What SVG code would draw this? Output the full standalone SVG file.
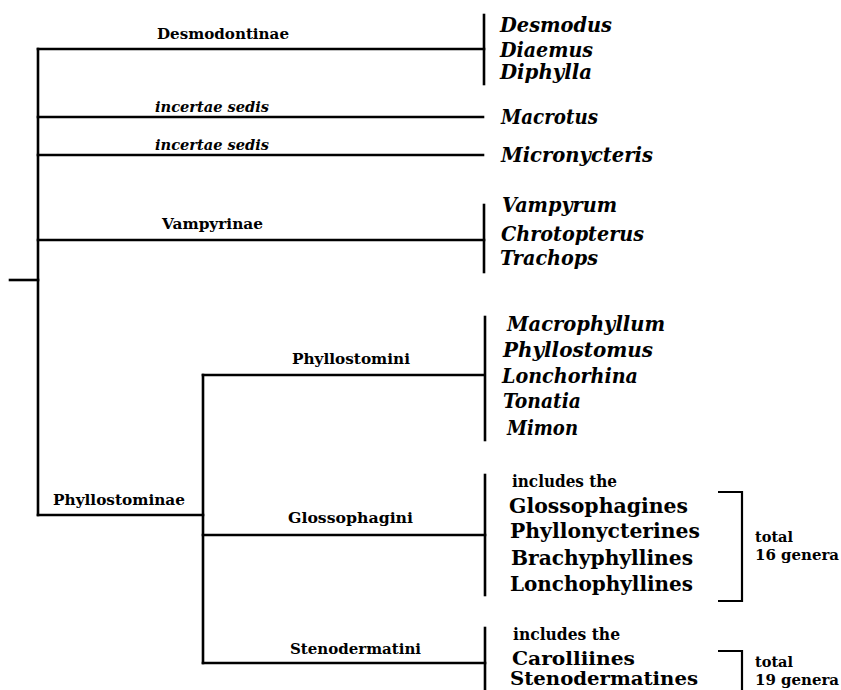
<svg xmlns="http://www.w3.org/2000/svg" width="841" height="690" viewBox="0 0 841 690">
<style>
  .ln { stroke: #000; stroke-width: 2.6; fill: none; stroke-linecap: square; }
  .br { stroke: #000; stroke-width: 2.2; fill: none; }
  .lab { font-family: "DejaVu Serif", "Liberation Serif", serif; font-weight: bold; font-size: 14.5px; fill: #000; }
  .lab-i { font-family: "DejaVu Serif", "Liberation Serif", serif; font-weight: bold; font-style: italic; font-size: 14.5px; fill: #000; }
  .gen { font-family: "DejaVu Serif", "Liberation Serif", serif; font-weight: bold; font-style: italic; font-size: 20px; fill: #000; }
  .grp { font-family: "DejaVu Serif", "Liberation Serif", serif; font-weight: bold; font-size: 21px; fill: #000; }
  .grp2 { font-family: "DejaVu Serif", "Liberation Serif", serif; font-weight: bold; font-size: 19px; fill: #000; }
  .sm { font-family: "DejaVu Serif", "Liberation Serif", serif; font-weight: bold; font-size: 16px; fill: #000; }
  .tot { font-family: "DejaVu Serif", "Liberation Serif", serif; font-weight: bold; font-size: 15px; fill: #000; }
</style>
<rect width="841" height="690" fill="#fff"/>
<g id="connectors">
  <line class="ln" x1="10" y1="280" x2="38" y2="280"/>
  <line class="ln" x1="38" y1="49" x2="38" y2="515"/>
  <line class="ln" x1="38" y1="49" x2="484" y2="49"/>
  <line class="ln" x1="38" y1="117" x2="483" y2="117"/>
  <line class="ln" x1="38" y1="155" x2="483" y2="155"/>
  <line class="ln" x1="38" y1="240" x2="484" y2="240"/>
  <line class="ln" x1="38" y1="515" x2="203" y2="515"/>
  <line class="ln" x1="203" y1="375" x2="203" y2="663"/>
  <line class="ln" x1="203" y1="375" x2="484" y2="375"/>
  <line class="ln" x1="203" y1="535" x2="485" y2="535"/>
  <line class="ln" x1="203" y1="663" x2="485" y2="663"/>
  <line class="ln" x1="484" y1="15" x2="484" y2="84"/>
  <line class="ln" x1="484" y1="205" x2="484" y2="272"/>
  <line class="ln" x1="485" y1="317" x2="485" y2="440"/>
  <line class="ln" x1="485" y1="475" x2="485" y2="595"/>
  <line class="ln" x1="485" y1="628" x2="485" y2="692"/>
  <path class="br" d="M718,492 H742 V601 H718"/>
  <path class="br" d="M718,651 H742 V692"/>
</g>
<g id="desmodontinae">
  <text class="lab" x="157" y="39" textLength="132" lengthAdjust="spacingAndGlyphs">Desmodontinae</text>
  <text class="gen" x="500" y="32" textLength="112" lengthAdjust="spacingAndGlyphs">Desmodus</text>
  <text class="gen" x="500" y="57" textLength="93" lengthAdjust="spacingAndGlyphs">Diaemus</text>
  <text class="gen" x="500" y="79" textLength="92" lengthAdjust="spacingAndGlyphs">Diphylla</text>
</g>
<g id="macrotus">
  <text class="lab-i" x="155" y="111.5" textLength="114" lengthAdjust="spacingAndGlyphs">incertae  sedis</text>
  <text class="gen" x="501" y="124" textLength="97" lengthAdjust="spacingAndGlyphs">Macrotus</text>
</g>
<g id="micronycteris">
  <text class="lab-i" x="155" y="149.5" textLength="114" lengthAdjust="spacingAndGlyphs">incertae  sedis</text>
  <text class="gen" x="501" y="162" textLength="152" lengthAdjust="spacingAndGlyphs">Micronycteris</text>
</g>
<g id="vampyrinae">
  <text class="lab" x="162" y="229" textLength="101" lengthAdjust="spacingAndGlyphs">Vampyrinae</text>
  <text class="gen" x="502" y="212" textLength="115" lengthAdjust="spacingAndGlyphs">Vampyrum</text>
  <text class="gen" x="501" y="241" textLength="143" lengthAdjust="spacingAndGlyphs">Chrotopterus</text>
  <text class="gen" x="500" y="265" textLength="98" lengthAdjust="spacingAndGlyphs">Trachops</text>
</g>
<g id="phyllostominae">
  <text class="lab" x="53" y="505" textLength="132" lengthAdjust="spacingAndGlyphs">Phyllostominae</text>
</g>
<g id="phyllostomini">
  <text class="lab" x="292" y="364" textLength="118" lengthAdjust="spacingAndGlyphs">Phyllostomini</text>
  <text class="gen" x="507" y="331" textLength="158" lengthAdjust="spacingAndGlyphs">Macrophyllum</text>
  <text class="gen" x="503" y="357" textLength="150" lengthAdjust="spacingAndGlyphs">Phyllostomus</text>
  <text class="gen" x="502" y="383" textLength="136" lengthAdjust="spacingAndGlyphs">Lonchorhina</text>
  <text class="gen" x="503" y="408" textLength="78" lengthAdjust="spacingAndGlyphs">Tonatia</text>
  <text class="gen" x="507" y="435" textLength="71" lengthAdjust="spacingAndGlyphs">Mimon</text>
</g>
<g id="glossophagini">
  <text class="lab" x="288" y="523" textLength="125" lengthAdjust="spacingAndGlyphs">Glossophagini</text>
  <text class="sm" x="512" y="487" textLength="105" lengthAdjust="spacingAndGlyphs">includes  the</text>
  <text class="grp" x="509" y="513" textLength="179" lengthAdjust="spacingAndGlyphs">Glossophagines</text>
  <text class="grp" x="510" y="538" textLength="190" lengthAdjust="spacingAndGlyphs">Phyllonycterines</text>
  <text class="grp" x="511" y="565" textLength="182" lengthAdjust="spacingAndGlyphs">Brachyphyllines</text>
  <text class="grp" x="510" y="591" textLength="183" lengthAdjust="spacingAndGlyphs">Lonchophyllines</text>
  <text class="tot" x="755" y="542" textLength="38" lengthAdjust="spacingAndGlyphs">total</text>
  <text class="tot" x="755" y="560" textLength="84" lengthAdjust="spacingAndGlyphs">16  genera</text>
</g>
<g id="stenodermatini">
  <text class="lab" x="290" y="654" textLength="131" lengthAdjust="spacingAndGlyphs">Stenodermatini</text>
  <text class="sm" x="513" y="640" textLength="107" lengthAdjust="spacingAndGlyphs">includes  the</text>
  <text class="grp2" x="512" y="665" textLength="123" lengthAdjust="spacingAndGlyphs">Carolliines</text>
  <text class="grp2" x="510" y="685" textLength="188" lengthAdjust="spacingAndGlyphs">Stenodermatines</text>
  <text class="tot" x="755" y="667" textLength="38" lengthAdjust="spacingAndGlyphs">total</text>
  <text class="tot" x="755" y="685" textLength="84" lengthAdjust="spacingAndGlyphs">19  genera</text>
</g>
</svg>
